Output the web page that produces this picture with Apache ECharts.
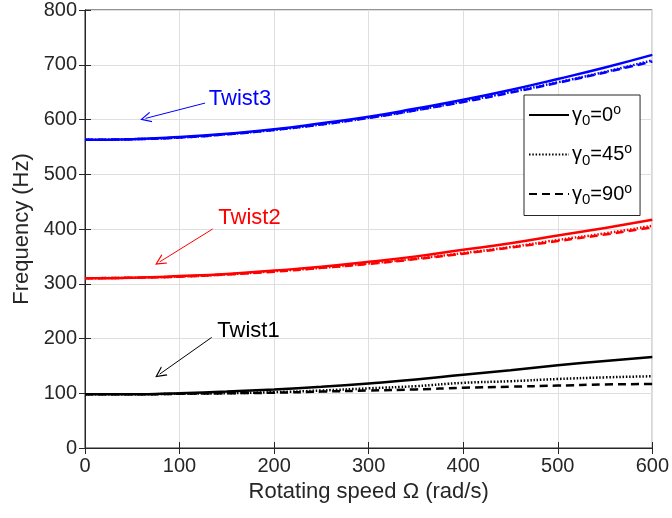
<!DOCTYPE html>
<html><head><meta charset="utf-8">
<script src="https://cdn.jsdelivr.net/npm/echarts@6/dist/echarts.min.js"></script>
<style>html,body{margin:0;padding:0;background:#fff}#c{width:672px;height:518px}</style>
</head><body><div id="c"></div>
<script>
var speeds = [0,50,100,150,200,250,300,350,400,450,500,550,600];
var twist3_g0  = [563,564,568,574,582,593,605,620,636,654,674,695,718];
var twist3_g45 = [563,564,567,573,581,591,603,617,633,650,668,687,708];
var twist3_g90 = [563,564,567,573,581,591,603,617,632,649,667,686,706];
var twist2_g0  = [310,311,314,318,324,331,340,350,362,374,388,402,417];
var twist2_g45 = [310,311,313,317,323,329,337,346,356,367,380,392,406];
var twist2_g90 = [310,311,313,317,322,329,336,345,355,366,378,390,403];
var twist1_g0  = [98,98,100,103,107,112,118,125,134,142,151,159,166];
var twist1_g45 = [98,98,99,100,102,105,109,113,119,122,126,129,131];
var twist1_g90 = [98,98,99,100,101,103,105,107,110,112,114,116,117];
var xTicks = [0,100,200,300,400,500,600];
var yTicks = [0,100,200,300,400,500,600,700,800];
var legendNames = ['g0','g45','g90'];
var legendAngles = ['0','45','90'];
var annoLabels = [
  {text:'Twist3', color:'#0000ff', at:[131,638], from:[127,630], to:[64,602]},
  {text:'Twist2', color:'#ff0000', at:[141,421], from:[135,400], to:[79,340]},
  {text:'Twist1', color:'#000000', at:[140,213], from:[134,202], to:[79,135]}
];

var FONT = '"Liberation Sans", Arial, Helvetica, sans-serif';
function pairs(vals){ return speeds.map(function(s,i){return [s, vals[i]];}); }
var styles = {
  g0: {type:'solid', width:2.5},
  g45: {type:[1.5,1.8], width:2.5},
  g90: {type:[8,5], width:2.5}
};
function mk(vals, color, key){
  return {type:'line', data:pairs(vals), smooth:true, showSymbol:false, symbol:'none',
    lineStyle:{color:color, width:styles[key].width, type:styles[key].type}, z:3, silent:true};
}
var series = [
  mk(twist3_g0,'#0000ff','g0'), mk(twist3_g45,'#0000ff','g45'), mk(twist3_g90,'#0000ff','g90'),
  mk(twist2_g0,'#ff0000','g0'), mk(twist2_g45,'#ff0000','g45'), mk(twist2_g90,'#ff0000','g90'),
  mk(twist1_g0,'#000000','g0'), mk(twist1_g45,'#000000','g45'), mk(twist1_g90,'#000000','g90')
];
legendNames.forEach(function(n){
  series.push({type:'line', name:n, data:[], symbol:'none', showSymbol:false, itemStyle:{color:'#000'},
    lineStyle:{color:'#000', width:styles[n].width, type:styles[n].type}});
});
var openArrow = 'path://M5,0 L10,10 L8.8,10 L5,2.4 L1.2,10 L0,10 Z';
series.push({type:'lines', coordinateSystem:'cartesian2d', symbol:['none',openArrow], symbolSize:[11,11], silent:true,
  data: annoLabels.map(function(a){return {coords:[a.from,a.to], lineStyle:{color:a.color, width:1}};}),
  lineStyle:{width:1, opacity:1}});
series.push({type:'scatter', symbolSize:0, silent:true, itemStyle:{opacity:1},
  data: annoLabels.map(function(a){return {value:a.at, name:a.text,
    label:{show:true, position:'right', distance:0, formatter:a.text, color:a.color, fontSize:22, fontFamily:FONT}};})});

var chart = echarts.init(document.getElementById('c'));
chart.setOption({
  animation:false,
  backgroundColor:'#fff',
  grid:{left:85, right:19, top:10, bottom:70, show:true, borderColor:'#262626', borderWidth:1},
  legend:{
    data:legendNames, orient:'vertical', left:524, top:95,
    itemWidth:40, itemHeight:14, itemGap:14, padding:[8,8,8,4],
    itemStyle:{opacity:0},
    backgroundColor:'#fff', borderColor:'#262626', borderWidth:1, borderRadius:0,
    formatter:function(n){ var a = legendAngles[legendNames.indexOf(n)]; return '{g|γ}{s|0}{g|='+a+'}{p|o}'; },
    textStyle:{color:'#000', fontFamily:FONT, padding:[0,0,0,-2], rich:{
      g:{fontSize:20, fontFamily:FONT, color:'#000'},
      s:{fontSize:15, fontFamily:FONT, color:'#000', padding:[12,0,0,0]},
      p:{fontSize:14, fontFamily:FONT, color:'#000', padding:[0,0,10,0]}
    }}
  },
  xAxis:[{type:'value', min:0, max:600, interval:100,
    name:'Rotating speed \u03A9 (rad/s)', nameLocation:'middle', nameGap:32,
    nameTextStyle:{fontSize:22, color:'#262626', fontFamily:FONT},
    axisLine:{show:true, lineStyle:{color:'#262626'}},
    axisTick:{show:true, inside:true, length:6, lineStyle:{color:'#262626'}},
    axisLabel:{fontSize:20, color:'#262626', fontFamily:FONT, margin:8},
    splitLine:{show:true, lineStyle:{color:'#dfdfdf', width:1}}},
   {type:'value', position:'top', min:0, max:600, interval:100,
    axisLine:{show:true, lineStyle:{color:'#262626'}},
    axisTick:{show:true, inside:true, length:6, lineStyle:{color:'#262626'}},
    axisLabel:{show:false}, splitLine:{show:false}}],
  yAxis:[{type:'value', min:0, max:800, interval:100,
    name:'Frequency (Hz)', nameLocation:'middle', nameGap:48,
    nameTextStyle:{fontSize:22, color:'#262626', fontFamily:FONT},
    axisLine:{show:true, lineStyle:{color:'#262626'}},
    axisTick:{show:true, inside:true, length:6, lineStyle:{color:'#262626'}},
    axisLabel:{fontSize:20, color:'#262626', fontFamily:FONT, margin:8},
    splitLine:{show:true, lineStyle:{color:'#dfdfdf', width:1}}},
   {type:'value', position:'right', min:0, max:800, interval:100,
    axisLine:{show:true, lineStyle:{color:'#262626'}},
    axisTick:{show:true, inside:true, length:6, lineStyle:{color:'#262626'}},
    axisLabel:{show:false}, splitLine:{show:false}}],
  series:series
});
</script></body></html>
